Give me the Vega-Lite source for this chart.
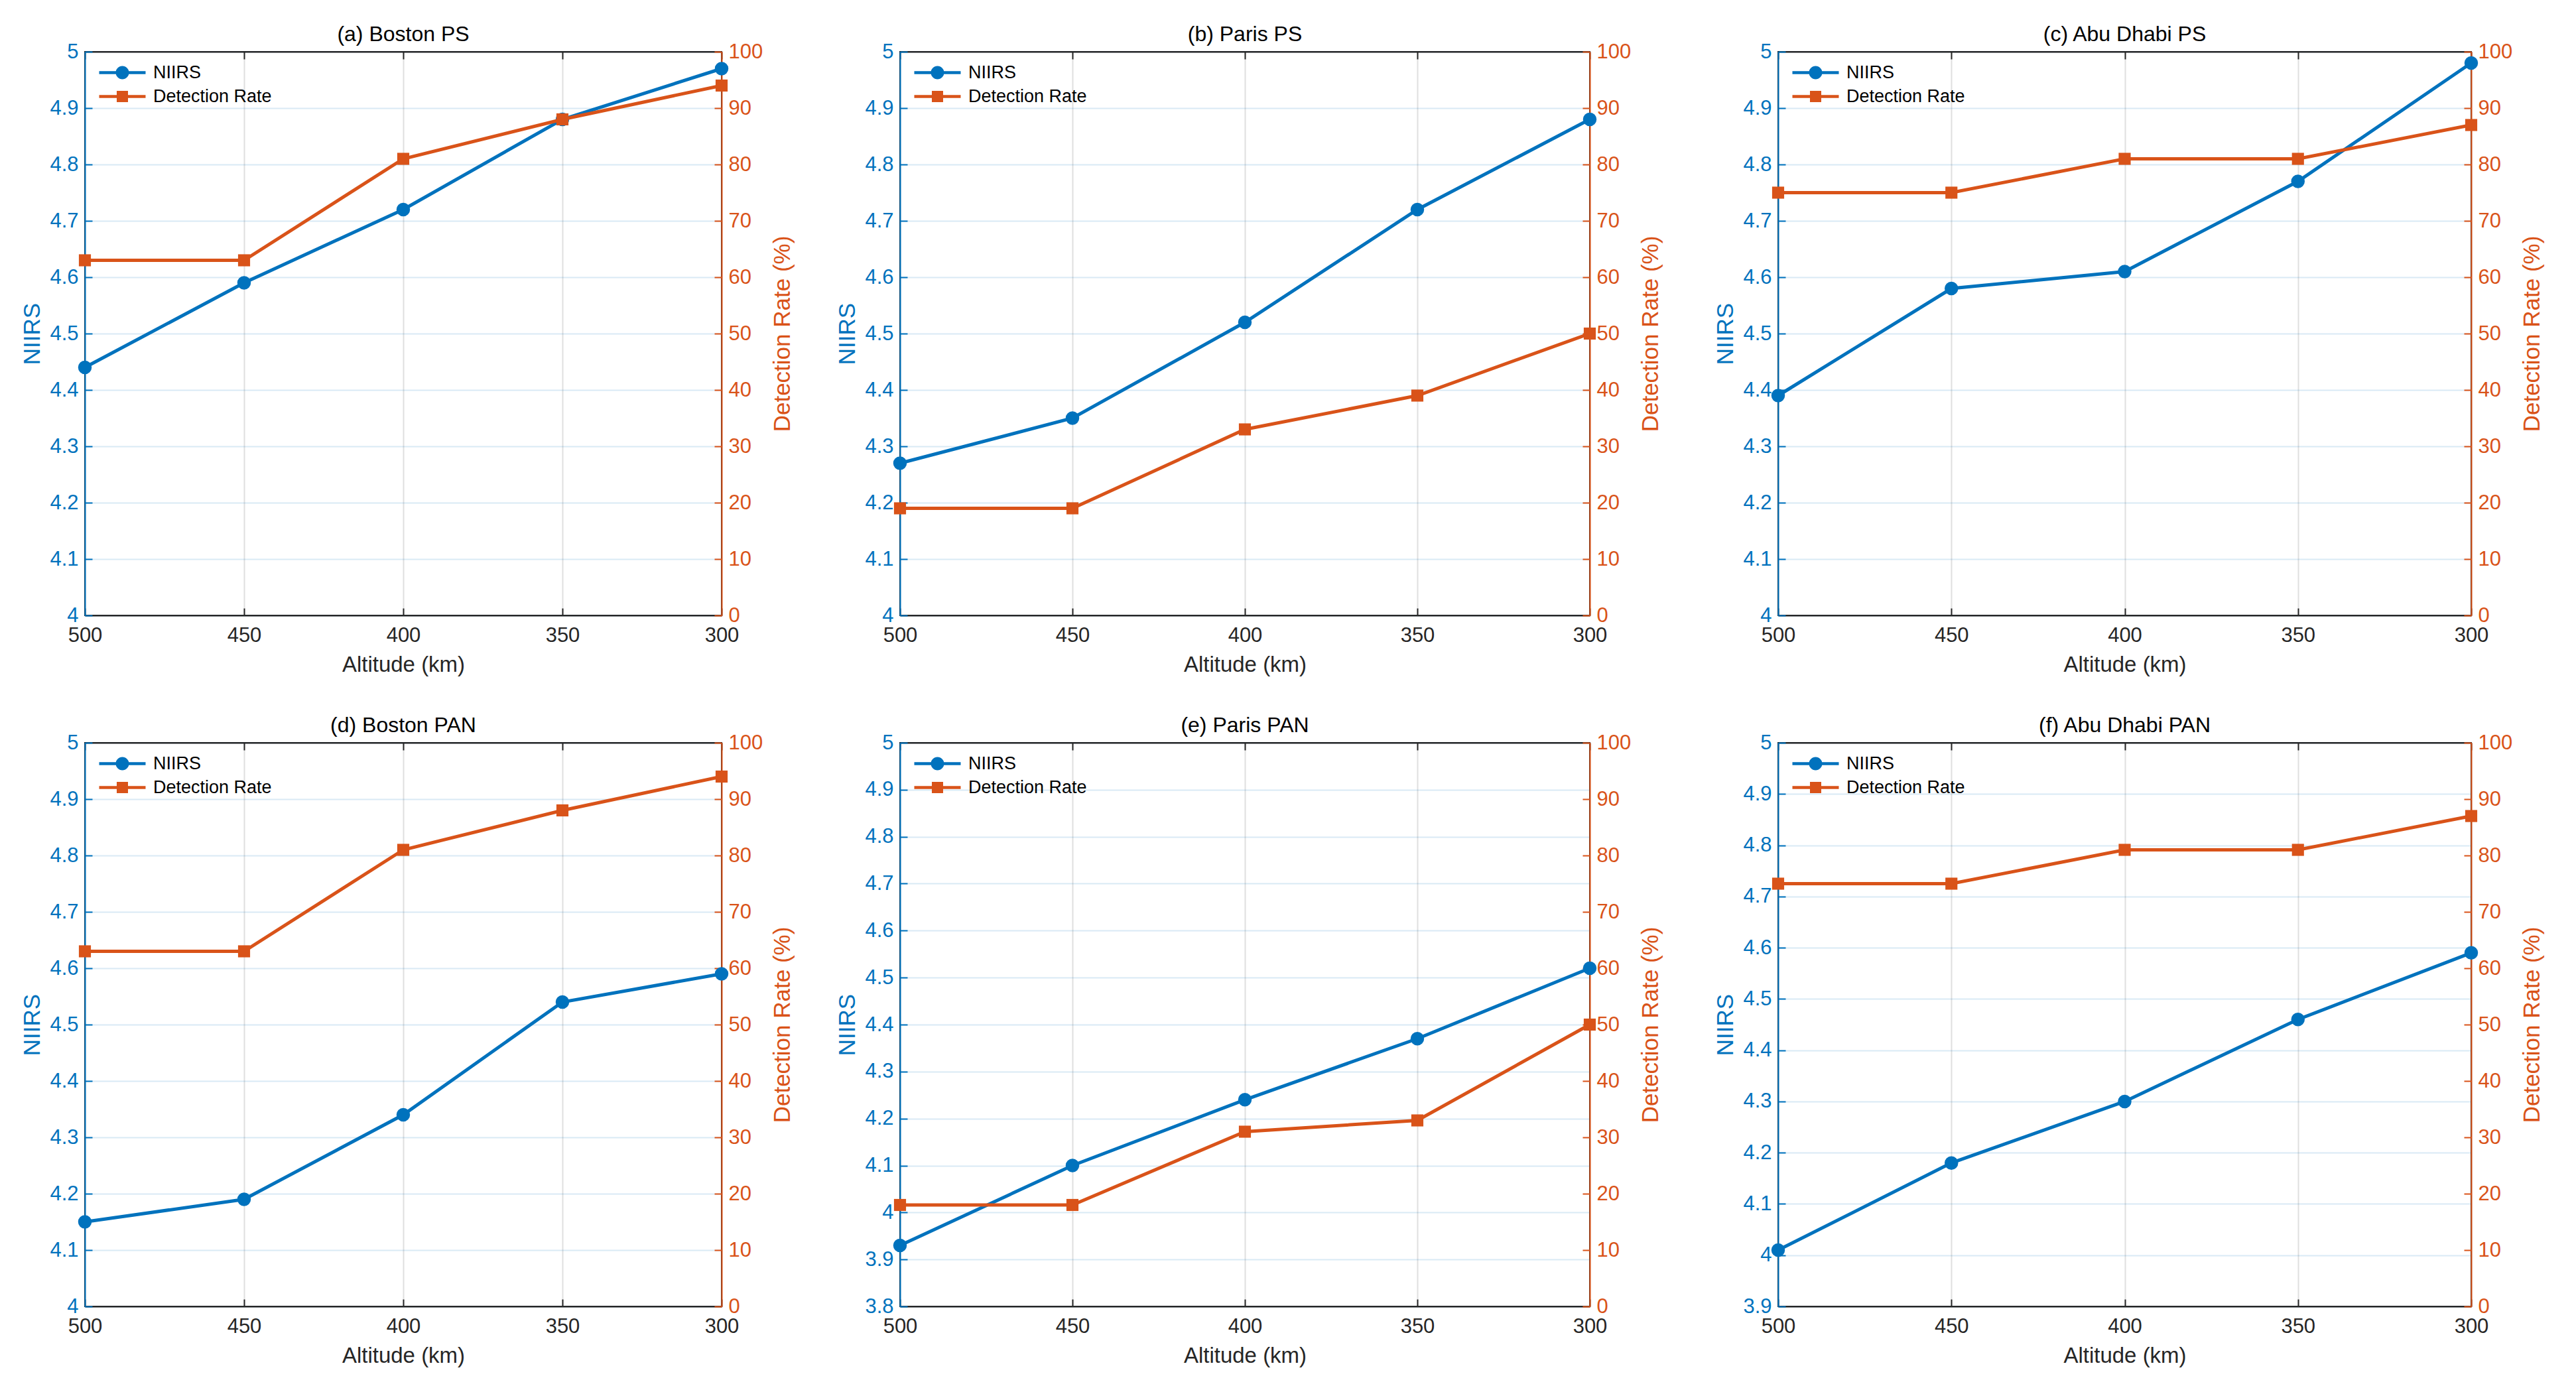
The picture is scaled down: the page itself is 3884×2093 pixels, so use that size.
{
  "$schema": "https://vega.github.io/schema/vega-lite/v6.json",
  "description": "NIIRS and detection rate against altitude for six scenes (PS and PAN).",
  "background": "white",
  "padding": {"left": 30, "top": 35, "right": 10, "bottom": 10},
  "data": {
    "values": [
      {"panel": "a", "alt": 500, "NIIRS": 4.44, "Detection Rate": 63},
      {"panel": "a", "alt": 450, "NIIRS": 4.59, "Detection Rate": 63},
      {"panel": "a", "alt": 400, "NIIRS": 4.72, "Detection Rate": 81},
      {"panel": "a", "alt": 350, "NIIRS": 4.88, "Detection Rate": 88},
      {"panel": "a", "alt": 300, "NIIRS": 4.97, "Detection Rate": 94},
      {"panel": "b", "alt": 500, "NIIRS": 4.27, "Detection Rate": 19},
      {"panel": "b", "alt": 450, "NIIRS": 4.35, "Detection Rate": 19},
      {"panel": "b", "alt": 400, "NIIRS": 4.52, "Detection Rate": 33},
      {"panel": "b", "alt": 350, "NIIRS": 4.72, "Detection Rate": 39},
      {"panel": "b", "alt": 300, "NIIRS": 4.88, "Detection Rate": 50},
      {"panel": "c", "alt": 500, "NIIRS": 4.39, "Detection Rate": 75},
      {"panel": "c", "alt": 450, "NIIRS": 4.58, "Detection Rate": 75},
      {"panel": "c", "alt": 400, "NIIRS": 4.61, "Detection Rate": 81},
      {"panel": "c", "alt": 350, "NIIRS": 4.77, "Detection Rate": 81},
      {"panel": "c", "alt": 300, "NIIRS": 4.98, "Detection Rate": 87},
      {"panel": "d", "alt": 500, "NIIRS": 4.15, "Detection Rate": 63},
      {"panel": "d", "alt": 450, "NIIRS": 4.19, "Detection Rate": 63},
      {"panel": "d", "alt": 400, "NIIRS": 4.34, "Detection Rate": 81},
      {"panel": "d", "alt": 350, "NIIRS": 4.54, "Detection Rate": 88},
      {"panel": "d", "alt": 300, "NIIRS": 4.59, "Detection Rate": 94},
      {"panel": "e", "alt": 500, "NIIRS": 3.93, "Detection Rate": 18},
      {"panel": "e", "alt": 450, "NIIRS": 4.10, "Detection Rate": 18},
      {"panel": "e", "alt": 400, "NIIRS": 4.24, "Detection Rate": 31},
      {"panel": "e", "alt": 350, "NIIRS": 4.37, "Detection Rate": 33},
      {"panel": "e", "alt": 300, "NIIRS": 4.52, "Detection Rate": 50},
      {"panel": "f", "alt": 500, "NIIRS": 4.01, "Detection Rate": 75},
      {"panel": "f", "alt": 450, "NIIRS": 4.18, "Detection Rate": 75},
      {"panel": "f", "alt": 400, "NIIRS": 4.30, "Detection Rate": 81},
      {"panel": "f", "alt": 350, "NIIRS": 4.46, "Detection Rate": 81},
      {"panel": "f", "alt": 300, "NIIRS": 4.59, "Detection Rate": 87}
    ]
  },
  "spacing": 75,
  "hconcat": [
    {
      "spacing": 60,
      "hconcat": [
        {
          "spacing": 57,
          "vconcat": [
            {
              "title": "(a) Boston PS",
              "width": 960, "height": 850,
              "transform": [{"filter": "datum.panel === 'a'"}],
              "layer": [
                {
                  "mark": {"type": "line", "color": "#0072BD", "strokeWidth": 5, "point": {"filled": true, "size": 420, "color": "#0072BD"}},
                  "encoding": {
                    "x": {"field": "alt", "type": "quantitative", "scale": {"domain": [300, 500], "reverse": true, "nice": false},
                      "axis": {"title": "Altitude (km)", "orient": "bottom", "values": [500, 450, 400, 350, 300], "grid": true}},
                    "y": {"field": "NIIRS", "type": "quantitative", "scale": {"domain": [4, 5], "nice": false, "zero": false},
                      "axis": {"title": "NIIRS", "orient": "left", "values": [4, 4.1, 4.2, 4.3, 4.4, 4.5, 4.6, 4.7, 4.8, 4.9, 5], "format": "~g", "labelColor": "#0072BD", "titleColor": "#0072BD", "domainColor": "#0072BD", "tickColor": "#0072BD", "grid": true, "gridColor": "#0072BD", "gridOpacity": 0.15}}
                  }
                },
                {
                  "mark": {"type": "line", "color": "#D95319", "strokeWidth": 5, "point": {"filled": true, "shape": "square", "size": 330, "color": "#D95319"}},
                  "encoding": {
                    "x": {"field": "alt", "type": "quantitative", "axis": {"orient": "top", "title": null, "labels": false, "grid": false, "values": [500, 450, 400, 350, 300]}},
                    "y": {"field": "Detection Rate", "type": "quantitative", "scale": {"domain": [0, 100], "nice": false},
                      "axis": {"title": "Detection Rate (%)", "orient": "right", "values": [0, 10, 20, 30, 40, 50, 60, 70, 80, 90, 100], "labelColor": "#D95319", "titleColor": "#D95319", "domainColor": "#D95319", "tickColor": "#D95319", "grid": false, "titleAngle": 270, "titleBaseline": "top", "titlePadding": 13}}
                  }
                },
                {
                  "transform": [{"fold": ["NIIRS", "Detection Rate"], "as": ["series", "val"]}],
                  "mark": {"type": "point", "filled": true, "opacity": 0},
                  "encoding": {
                    "x": {"field": "alt", "type": "quantitative", "axis": null},
                    "color": {"field": "series", "type": "nominal", "scale": {"domain": ["NIIRS", "Detection Rate"], "range": ["#0072BD", "#D95319"]}, "legend": {"title": null}},
                    "shape": {"field": "series", "type": "nominal", "scale": {"domain": ["NIIRS", "Detection Rate"], "range": ["M-1,-0.22H6V0.22H-1Z M1.5,0A1,1 0 1,1 3.5,0A1,1 0 1,1 1.5,0Z", "M-1,-0.22H6V0.22H-1Z M1.65,-0.85H3.35V0.85H1.65Z"]}, "legend": {"title": null}}
                  }
                }
              ],
              "resolve": {"scale": {"y": "independent"}, "axis": {"x": "independent"}}
            },
            {
              "title": "(d) Boston PAN",
              "width": 960, "height": 850,
              "transform": [{"filter": "datum.panel === 'd'"}],
              "layer": [
                {
                  "mark": {"type": "line", "color": "#0072BD", "strokeWidth": 5, "point": {"filled": true, "size": 420, "color": "#0072BD"}},
                  "encoding": {
                    "x": {"field": "alt", "type": "quantitative", "scale": {"domain": [300, 500], "reverse": true, "nice": false},
                      "axis": {"title": "Altitude (km)", "orient": "bottom", "values": [500, 450, 400, 350, 300], "grid": true}},
                    "y": {"field": "NIIRS", "type": "quantitative", "scale": {"domain": [4, 5], "nice": false, "zero": false},
                      "axis": {"title": "NIIRS", "orient": "left", "values": [4, 4.1, 4.2, 4.3, 4.4, 4.5, 4.6, 4.7, 4.8, 4.9, 5], "format": "~g", "labelColor": "#0072BD", "titleColor": "#0072BD", "domainColor": "#0072BD", "tickColor": "#0072BD", "grid": true, "gridColor": "#0072BD", "gridOpacity": 0.15}}
                  }
                },
                {
                  "mark": {"type": "line", "color": "#D95319", "strokeWidth": 5, "point": {"filled": true, "shape": "square", "size": 330, "color": "#D95319"}},
                  "encoding": {
                    "x": {"field": "alt", "type": "quantitative", "axis": {"orient": "top", "title": null, "labels": false, "grid": false, "values": [500, 450, 400, 350, 300]}},
                    "y": {"field": "Detection Rate", "type": "quantitative", "scale": {"domain": [0, 100], "nice": false},
                      "axis": {"title": "Detection Rate (%)", "orient": "right", "values": [0, 10, 20, 30, 40, 50, 60, 70, 80, 90, 100], "labelColor": "#D95319", "titleColor": "#D95319", "domainColor": "#D95319", "tickColor": "#D95319", "grid": false, "titleAngle": 270, "titleBaseline": "top", "titlePadding": 13}}
                  }
                },
                {
                  "transform": [{"fold": ["NIIRS", "Detection Rate"], "as": ["series", "val"]}],
                  "mark": {"type": "point", "filled": true, "opacity": 0},
                  "encoding": {
                    "x": {"field": "alt", "type": "quantitative", "axis": null},
                    "color": {"field": "series", "type": "nominal", "scale": {"domain": ["NIIRS", "Detection Rate"], "range": ["#0072BD", "#D95319"]}, "legend": {"title": null}},
                    "shape": {"field": "series", "type": "nominal", "scale": {"domain": ["NIIRS", "Detection Rate"], "range": ["M-1,-0.22H6V0.22H-1Z M1.5,0A1,1 0 1,1 3.5,0A1,1 0 1,1 1.5,0Z", "M-1,-0.22H6V0.22H-1Z M1.65,-0.85H3.35V0.85H1.65Z"]}, "legend": {"title": null}}
                  }
                }
              ],
              "resolve": {"scale": {"y": "independent"}, "axis": {"x": "independent"}}
            }
          ],
          "resolve": {
            "scale": {"x": "independent", "y": "independent", "color": "independent", "shape": "independent"},
            "legend": {"color": "independent", "shape": "independent"}
          }
        },
        {
          "spacing": 57,
          "vconcat": [
            {
              "title": "(b) Paris PS",
              "width": 1040, "height": 850,
              "transform": [{"filter": "datum.panel === 'b'"}],
              "layer": [
                {
                  "mark": {"type": "line", "color": "#0072BD", "strokeWidth": 5, "point": {"filled": true, "size": 420, "color": "#0072BD"}},
                  "encoding": {
                    "x": {"field": "alt", "type": "quantitative", "scale": {"domain": [300, 500], "reverse": true, "nice": false},
                      "axis": {"title": "Altitude (km)", "orient": "bottom", "values": [500, 450, 400, 350, 300], "grid": true}},
                    "y": {"field": "NIIRS", "type": "quantitative", "scale": {"domain": [4, 5], "nice": false, "zero": false},
                      "axis": {"title": "NIIRS", "orient": "left", "values": [4, 4.1, 4.2, 4.3, 4.4, 4.5, 4.6, 4.7, 4.8, 4.9, 5], "format": "~g", "labelColor": "#0072BD", "titleColor": "#0072BD", "domainColor": "#0072BD", "tickColor": "#0072BD", "grid": true, "gridColor": "#0072BD", "gridOpacity": 0.15}}
                  }
                },
                {
                  "mark": {"type": "line", "color": "#D95319", "strokeWidth": 5, "point": {"filled": true, "shape": "square", "size": 330, "color": "#D95319"}},
                  "encoding": {
                    "x": {"field": "alt", "type": "quantitative", "axis": {"orient": "top", "title": null, "labels": false, "grid": false, "values": [500, 450, 400, 350, 300]}},
                    "y": {"field": "Detection Rate", "type": "quantitative", "scale": {"domain": [0, 100], "nice": false},
                      "axis": {"title": "Detection Rate (%)", "orient": "right", "values": [0, 10, 20, 30, 40, 50, 60, 70, 80, 90, 100], "labelColor": "#D95319", "titleColor": "#D95319", "domainColor": "#D95319", "tickColor": "#D95319", "grid": false, "titleAngle": 270, "titleBaseline": "top", "titlePadding": 13}}
                  }
                },
                {
                  "transform": [{"fold": ["NIIRS", "Detection Rate"], "as": ["series", "val"]}],
                  "mark": {"type": "point", "filled": true, "opacity": 0},
                  "encoding": {
                    "x": {"field": "alt", "type": "quantitative", "axis": null},
                    "color": {"field": "series", "type": "nominal", "scale": {"domain": ["NIIRS", "Detection Rate"], "range": ["#0072BD", "#D95319"]}, "legend": {"title": null}},
                    "shape": {"field": "series", "type": "nominal", "scale": {"domain": ["NIIRS", "Detection Rate"], "range": ["M-1,-0.22H6V0.22H-1Z M1.5,0A1,1 0 1,1 3.5,0A1,1 0 1,1 1.5,0Z", "M-1,-0.22H6V0.22H-1Z M1.65,-0.85H3.35V0.85H1.65Z"]}, "legend": {"title": null}}
                  }
                }
              ],
              "resolve": {"scale": {"y": "independent"}, "axis": {"x": "independent"}}
            },
            {
              "title": "(e) Paris PAN",
              "width": 1040, "height": 850,
              "transform": [{"filter": "datum.panel === 'e'"}],
              "layer": [
                {
                  "mark": {"type": "line", "color": "#0072BD", "strokeWidth": 5, "point": {"filled": true, "size": 420, "color": "#0072BD"}},
                  "encoding": {
                    "x": {"field": "alt", "type": "quantitative", "scale": {"domain": [300, 500], "reverse": true, "nice": false},
                      "axis": {"title": "Altitude (km)", "orient": "bottom", "values": [500, 450, 400, 350, 300], "grid": true}},
                    "y": {"field": "NIIRS", "type": "quantitative", "scale": {"domain": [3.8, 5], "nice": false, "zero": false},
                      "axis": {"title": "NIIRS", "orient": "left", "values": [3.8, 3.9, 4, 4.1, 4.2, 4.3, 4.4, 4.5, 4.6, 4.7, 4.8, 4.9, 5], "format": "~g", "labelColor": "#0072BD", "titleColor": "#0072BD", "domainColor": "#0072BD", "tickColor": "#0072BD", "grid": true, "gridColor": "#0072BD", "gridOpacity": 0.15}}
                  }
                },
                {
                  "mark": {"type": "line", "color": "#D95319", "strokeWidth": 5, "point": {"filled": true, "shape": "square", "size": 330, "color": "#D95319"}},
                  "encoding": {
                    "x": {"field": "alt", "type": "quantitative", "axis": {"orient": "top", "title": null, "labels": false, "grid": false, "values": [500, 450, 400, 350, 300]}},
                    "y": {"field": "Detection Rate", "type": "quantitative", "scale": {"domain": [0, 100], "nice": false},
                      "axis": {"title": "Detection Rate (%)", "orient": "right", "values": [0, 10, 20, 30, 40, 50, 60, 70, 80, 90, 100], "labelColor": "#D95319", "titleColor": "#D95319", "domainColor": "#D95319", "tickColor": "#D95319", "grid": false, "titleAngle": 270, "titleBaseline": "top", "titlePadding": 13}}
                  }
                },
                {
                  "transform": [{"fold": ["NIIRS", "Detection Rate"], "as": ["series", "val"]}],
                  "mark": {"type": "point", "filled": true, "opacity": 0},
                  "encoding": {
                    "x": {"field": "alt", "type": "quantitative", "axis": null},
                    "color": {"field": "series", "type": "nominal", "scale": {"domain": ["NIIRS", "Detection Rate"], "range": ["#0072BD", "#D95319"]}, "legend": {"title": null}},
                    "shape": {"field": "series", "type": "nominal", "scale": {"domain": ["NIIRS", "Detection Rate"], "range": ["M-1,-0.22H6V0.22H-1Z M1.5,0A1,1 0 1,1 3.5,0A1,1 0 1,1 1.5,0Z", "M-1,-0.22H6V0.22H-1Z M1.65,-0.85H3.35V0.85H1.65Z"]}, "legend": {"title": null}}
                  }
                }
              ],
              "resolve": {"scale": {"y": "independent"}, "axis": {"x": "independent"}}
            }
          ],
          "resolve": {
            "scale": {"x": "independent", "y": "independent", "color": "independent", "shape": "independent"},
            "legend": {"color": "independent", "shape": "independent"}
          }
        }
      ],
      "resolve": {
        "scale": {"x": "independent", "y": "independent", "color": "independent", "shape": "independent"},
        "legend": {"color": "independent", "shape": "independent"}
      }
    },
    {
      "spacing": 57,
      "vconcat": [
        {
          "title": "(c) Abu Dhabi PS",
          "width": 1045, "height": 850,
          "transform": [{"filter": "datum.panel === 'c'"}],
          "layer": [
            {
              "mark": {"type": "line", "color": "#0072BD", "strokeWidth": 5, "point": {"filled": true, "size": 420, "color": "#0072BD"}},
              "encoding": {
                "x": {"field": "alt", "type": "quantitative", "scale": {"domain": [300, 500], "reverse": true, "nice": false},
                  "axis": {"title": "Altitude (km)", "orient": "bottom", "values": [500, 450, 400, 350, 300], "grid": true}},
                "y": {"field": "NIIRS", "type": "quantitative", "scale": {"domain": [4, 5], "nice": false, "zero": false},
                  "axis": {"title": "NIIRS", "orient": "left", "values": [4, 4.1, 4.2, 4.3, 4.4, 4.5, 4.6, 4.7, 4.8, 4.9, 5], "format": "~g", "labelColor": "#0072BD", "titleColor": "#0072BD", "domainColor": "#0072BD", "tickColor": "#0072BD", "grid": true, "gridColor": "#0072BD", "gridOpacity": 0.15}}
              }
            },
            {
              "mark": {"type": "line", "color": "#D95319", "strokeWidth": 5, "point": {"filled": true, "shape": "square", "size": 330, "color": "#D95319"}},
              "encoding": {
                "x": {"field": "alt", "type": "quantitative", "axis": {"orient": "top", "title": null, "labels": false, "grid": false, "values": [500, 450, 400, 350, 300]}},
                "y": {"field": "Detection Rate", "type": "quantitative", "scale": {"domain": [0, 100], "nice": false},
                  "axis": {"title": "Detection Rate (%)", "orient": "right", "values": [0, 10, 20, 30, 40, 50, 60, 70, 80, 90, 100], "labelColor": "#D95319", "titleColor": "#D95319", "domainColor": "#D95319", "tickColor": "#D95319", "grid": false, "titleAngle": 270, "titleBaseline": "top", "titlePadding": 13}}
              }
            },
            {
              "transform": [{"fold": ["NIIRS", "Detection Rate"], "as": ["series", "val"]}],
              "mark": {"type": "point", "filled": true, "opacity": 0},
              "encoding": {
                "x": {"field": "alt", "type": "quantitative", "axis": null},
                "color": {"field": "series", "type": "nominal", "scale": {"domain": ["NIIRS", "Detection Rate"], "range": ["#0072BD", "#D95319"]}, "legend": {"title": null}},
                "shape": {"field": "series", "type": "nominal", "scale": {"domain": ["NIIRS", "Detection Rate"], "range": ["M-1,-0.22H6V0.22H-1Z M1.5,0A1,1 0 1,1 3.5,0A1,1 0 1,1 1.5,0Z", "M-1,-0.22H6V0.22H-1Z M1.65,-0.85H3.35V0.85H1.65Z"]}, "legend": {"title": null}}
              }
            }
          ],
          "resolve": {"scale": {"y": "independent"}, "axis": {"x": "independent"}}
        },
        {
          "title": "(f) Abu Dhabi PAN",
          "width": 1045, "height": 850,
          "transform": [{"filter": "datum.panel === 'f'"}],
          "layer": [
            {
              "mark": {"type": "line", "color": "#0072BD", "strokeWidth": 5, "point": {"filled": true, "size": 420, "color": "#0072BD"}},
              "encoding": {
                "x": {"field": "alt", "type": "quantitative", "scale": {"domain": [300, 500], "reverse": true, "nice": false},
                  "axis": {"title": "Altitude (km)", "orient": "bottom", "values": [500, 450, 400, 350, 300], "grid": true}},
                "y": {"field": "NIIRS", "type": "quantitative", "scale": {"domain": [3.9, 5], "nice": false, "zero": false},
                  "axis": {"title": "NIIRS", "orient": "left", "values": [3.9, 4, 4.1, 4.2, 4.3, 4.4, 4.5, 4.6, 4.7, 4.8, 4.9, 5], "format": "~g", "labelColor": "#0072BD", "titleColor": "#0072BD", "domainColor": "#0072BD", "tickColor": "#0072BD", "grid": true, "gridColor": "#0072BD", "gridOpacity": 0.15}}
              }
            },
            {
              "mark": {"type": "line", "color": "#D95319", "strokeWidth": 5, "point": {"filled": true, "shape": "square", "size": 330, "color": "#D95319"}},
              "encoding": {
                "x": {"field": "alt", "type": "quantitative", "axis": {"orient": "top", "title": null, "labels": false, "grid": false, "values": [500, 450, 400, 350, 300]}},
                "y": {"field": "Detection Rate", "type": "quantitative", "scale": {"domain": [0, 100], "nice": false},
                  "axis": {"title": "Detection Rate (%)", "orient": "right", "values": [0, 10, 20, 30, 40, 50, 60, 70, 80, 90, 100], "labelColor": "#D95319", "titleColor": "#D95319", "domainColor": "#D95319", "tickColor": "#D95319", "grid": false, "titleAngle": 270, "titleBaseline": "top", "titlePadding": 13}}
              }
            },
            {
              "transform": [{"fold": ["NIIRS", "Detection Rate"], "as": ["series", "val"]}],
              "mark": {"type": "point", "filled": true, "opacity": 0},
              "encoding": {
                "x": {"field": "alt", "type": "quantitative", "axis": null},
                "color": {"field": "series", "type": "nominal", "scale": {"domain": ["NIIRS", "Detection Rate"], "range": ["#0072BD", "#D95319"]}, "legend": {"title": null}},
                "shape": {"field": "series", "type": "nominal", "scale": {"domain": ["NIIRS", "Detection Rate"], "range": ["M-1,-0.22H6V0.22H-1Z M1.5,0A1,1 0 1,1 3.5,0A1,1 0 1,1 1.5,0Z", "M-1,-0.22H6V0.22H-1Z M1.65,-0.85H3.35V0.85H1.65Z"]}, "legend": {"title": null}}
              }
            }
          ],
          "resolve": {"scale": {"y": "independent"}, "axis": {"x": "independent"}}
        }
      ],
      "resolve": {
        "scale": {"x": "independent", "y": "independent", "color": "independent", "shape": "independent"},
        "legend": {"color": "independent", "shape": "independent"}
      }
    }
  ],
  "resolve": {
    "scale": {"x": "independent", "y": "independent", "color": "independent", "shape": "independent"},
    "legend": {"color": "independent", "shape": "independent"}
  },
  "config": {
    "font": "Liberation Sans",
    "view": {"stroke": "#262626", "strokeWidth": 2},
    "title": {"fontSize": 32, "fontWeight": "normal", "color": "#000000", "offset": -7},
    "axis": {
      "labelFontSize": 31,
      "titleFontWeight": "normal",
      "labelColor": "#262626",
      "titleColor": "#262626",
      "domainColor": "#262626",
      "tickColor": "#262626",
      "domainWidth": 2,
      "tickWidth": 2,
      "tickSize": -11,
      "labelPadding": 21,
      "titlePadding": 8,
      "labelFlush": false,
      "gridColor": "#262626",
      "gridOpacity": 0.15,
      "gridWidth": 2
    },
    "axisX": {"titleFontSize": 33, "labelPadding": 26, "titlePadding": 13},
    "axisY": {"titleFontSize": 35},
    "legend": {
      "orient": "top-left",
      "offset": 18,
      "labelFontSize": 27,
      "labelColor": "#000000",
      "labelLimit": 0,
      "symbolSize": 400,
      "labelOffset": 58,
      "rowPadding": 8,
      "symbolStrokeWidth": 0,
      "symbolOpacity": 1
    }
  }
}
